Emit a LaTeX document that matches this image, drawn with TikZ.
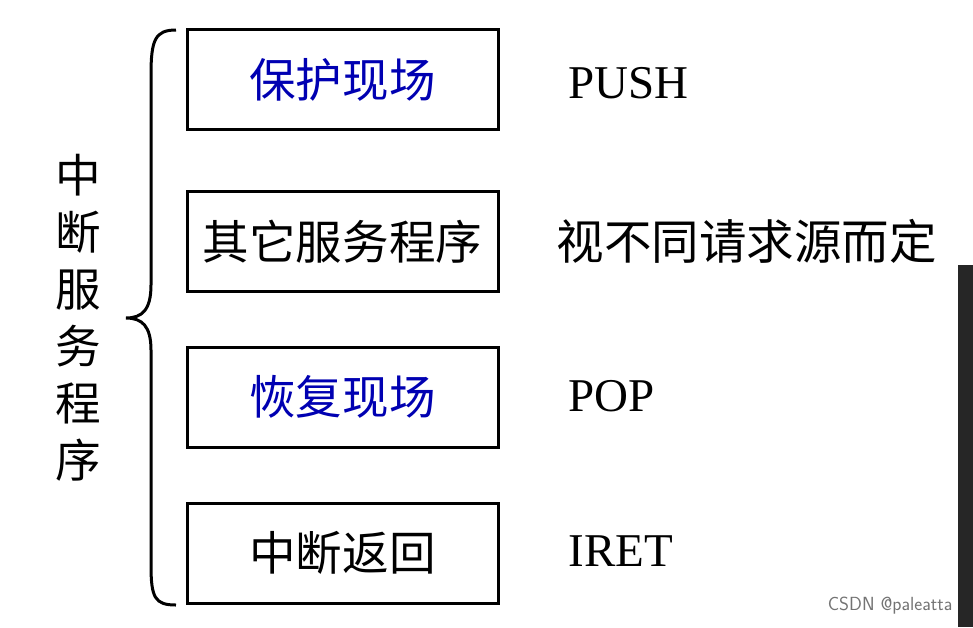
\documentclass[tikz,border=0pt]{standalone}
\usepackage{fontspec}
\setmainfont{Liberation Serif}
\newfontfamily\cjk{Noto Sans CJK SC}[Scale=0.95]
\begin{document}
\begin{tikzpicture}[x=1pt,y=-1pt,
  boxs/.style={draw=black,line width=3pt,minimum width=311pt,minimum height=100pt,inner sep=0pt,font=\cjk\fontsize{49}{52}\selectfont},
  lab/.style={anchor=west,font=\fontsize{47}{50}\selectfont},
  blue/.style={text=blue!70!black}]
\useasboundingbox[fill=white] (0,0) rectangle (973,627);
\fill[black!85] (958,265) rectangle (973,627);
\node[boxs,blue] (b1) at (342.5,79.5) {保护现场};
\node[boxs] (b2) at (342.5,241.5) {其它服务程序};
\node[boxs,blue] (b3) at (342.5,397) {恢复现场};
\node[boxs] (b4) at (342.5,553) {中断返回};
\node[lab] (l1) at (565,83) {PUSH};
\node[lab,font=\cjk\fontsize{50}{52}\selectfont] (l2) at (553,241) {视不同请求源而定};
\node[lab] (l3) at (565,396) {POP};
\node[lab] (l4) at (565,551) {IRET};
\node[font=\cjk\fontsize{48}{57}\selectfont,align=center] (v) at (78,318) {中\\断\\服\\务\\程\\序};
\draw[line width=3pt] (176,30) .. controls (155,30) and (151,40) .. (151,75) -- (151,285)
  .. controls (151,310) and (142,318) .. (126,318)
  .. controls (142,318) and (151,326) .. (151,350) -- (151,565)
  .. controls (151,598) and (155,605) .. (176,605);
\node[anchor=east,text=black!55,font=\sffamily\fontsize{19}{21}\selectfont] (wm) at (956,606) {CSDN @paleatta};
\end{tikzpicture}
\end{document}
